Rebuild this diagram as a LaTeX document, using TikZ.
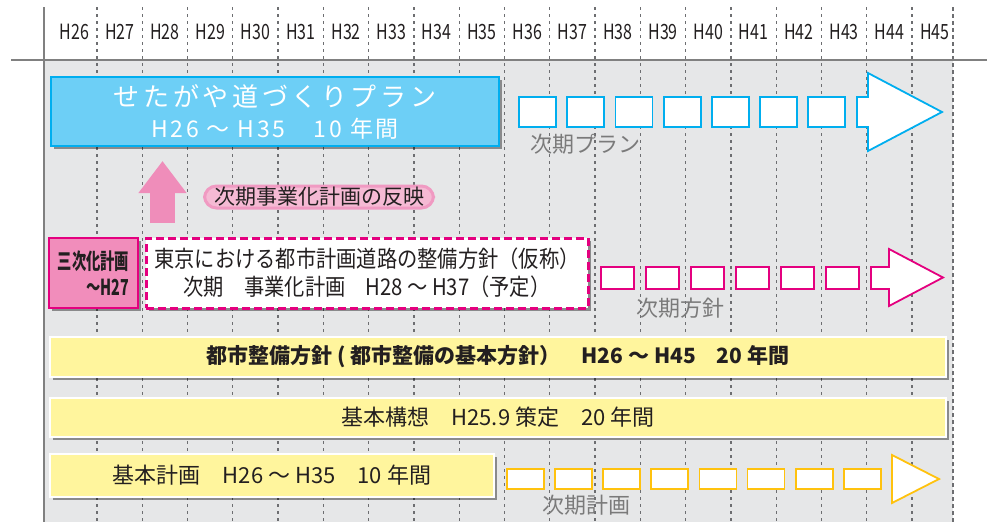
\documentclass[tikz,border=0pt]{standalone}
\usepackage{fontspec}
\setmainfont{Noto Sans CJK JP}
\newfontfamily\condfont[FakeStretch=0.76]{Noto Sans CJK JP}
\newfontfamily\boxfont[FakeStretch=0.65]{Noto Sans CJK JP}
\newfontfamily\narrowfont[FakeStretch=0.88]{Noto Sans CJK JP}
\usetikzlibrary{shadows,arrows.meta}

\definecolor{gridgray}{HTML}{6D6E71}
\definecolor{axisgray}{HTML}{808080}
\definecolor{bggray}{HTML}{E6E7E8}
\definecolor{planblue}{HTML}{6DCFF6}
\definecolor{planborder}{HTML}{00AEEF}
\definecolor{policypink}{HTML}{F18DBB}
\definecolor{policymagenta}{HTML}{E4007F}
\definecolor{uppink}{HTML}{EF8DBA}
\definecolor{glowpink}{HTML}{F5BAD4}
\definecolor{glowedge}{HTML}{F09AC2}
\definecolor{baryellow}{HTML}{FFF59D}
\definecolor{nextyellow}{HTML}{FFC20E}
\definecolor{inkdark}{HTML}{231F20}
\definecolor{nextgray}{HTML}{7A7A7A}

\tikzset{
  boxshadow/.style={drop shadow={shadow xshift=2.5pt,shadow yshift=-2.5pt,opacity=0.4,fill=black}},
  gridline/.style={gridgray,line width=1.3pt,dash pattern=on 3pt off 4pt},
  yearlabel/.style={text=inkdark,font=\condfont\fontsize{21}{24}\selectfont,inner sep=0pt},
  planbox/.style={boxshadow,draw=planborder,line width=2pt,fill=planblue,inner sep=0pt,
    minimum width=448pt,minimum height=69pt,align=center,text=white,
    font=\fontsize{26}{31}\selectfont},
  oldbox/.style={boxshadow,draw=policymagenta,line width=2.8pt,fill=policypink,inner sep=0pt,
    minimum width=89pt,minimum height=70pt,align=right,text=inkdark,
    font=\boxfont\bfseries\fontsize{22}{26}\selectfont},
  policybox/.style={boxshadow,draw=policymagenta,line width=3pt,dash pattern=on 8pt off 4pt,
    fill=white,inner sep=0pt,minimum width=442pt,minimum height=70pt,align=center,
    text=inkdark,font=\narrowfont\fontsize{23}{28}\selectfont},
  yellowbar/.style={boxshadow,draw=white,line width=2.5pt,fill=baryellow,inner sep=0pt,
    text=inkdark,font=\fontsize{22}{26}\selectfont},
  glowblob/.style={draw=glowedge,line width=3pt,fill=glowpink,rounded corners=12pt,
    inner sep=0pt,minimum width=229pt,minimum height=22pt,text=inkdark,
    font=\fontsize{21}{24}\selectfont},
  nextlabel/.style={text=nextgray,inner sep=0pt,font=\fontsize{22}{24}\selectfont},
  nextplan/.style={draw=planborder,line width=1.8pt,fill=white},
  nextpolicy/.style={draw=policymagenta,line width=1.8pt,fill=white},
  nextbasic/.style={draw=nextyellow,line width=1.8pt,fill=white},
}

\begin{document}
\begin{tikzpicture}[x=1pt,y=-1pt]
\useasboundingbox (0,0) rectangle (987,522);

%Background
\fill[bggray] (45,61) rectangle (953,522);

%Year columns
\foreach \i in {0,...,18}
  \draw[gridline] (97+45.28*\i,7) -- (97+45.28*\i,522);
\draw[gridgray,line width=2.3pt,dash pattern=on 4pt off 3pt] (953,7) -- (953,522);

\foreach \yr [count=\i from 0] in {26,...,45}
  \node[yearlabel] (h\yr) at (74.4+45.28*\i,32){H\yr};

%Axes
\draw[axisgray,line width=2.5pt] (44,7) -- (44,522);
\draw[axisgray,line width=2.5pt] (11,60) -- (987,60);


%%%%%%%%%%%%%%%%%Plan%%%%%%%%%%%%%%
\node[planbox,
] (plan) at (275,111.5){{\addfontfeature{LetterSpace=14}せたがや道づくりプラン}\\
{\fontsize{23}{31}\selectfont\addfontfeature{LetterSpace=12}H26 ～ H35　10 年間}};

%Next plan
\foreach \i in {0,...,6}
  \draw[nextplan] (519+48.2*\i,97) rectangle ++(37,30);
\draw[nextplan] (857,97) -- (868,97) -- (868,73) -- (942,112) -- (868,151)
  -- (868,127) -- (857,127) -- cycle;
\node[nextlabel] (nextplanlabel) at (585,144){次期プラン};


%%%%%%%%%%%%%%%%%Reflect%%%%%%%%%%%%%%
\coordinate (upfoot) at (162.5,223);
\coordinate (uptip) at (162.5,161);
\draw[uppink,line width=25pt,-{Triangle[length=32pt,width=46pt]}] (upfoot) -- (uptip);

\node[glowblob,
] (reflect) at (319,197){次期事業化計画の反映};


%%%%%%%%%%%%%%%%%Policy%%%%%%%%%%%%%%
%Third plan
\node[oldbox,
] (third) at (93.5,273){三次化計画\\～H27};

%Tokyo policy
\node[policybox,
] (policy) at (367,273){東京における都市計画道路の整備方針（仮称）\\
次期　事業化計画　H28 ～ H37（予定）};

%Next policy
\foreach \i in {0,...,5}
  \draw[nextpolicy] (601+45*\i,267) rectangle ++(33,22);
\draw[nextpolicy] (871,267) -- (889,267) -- (889,249) -- (943,277.5) -- (889,306)
  -- (889,289) -- (871,289) -- cycle;
\node[nextlabel] (nextpolicylabel) at (680,308){次期方針};


%%%%%%%%%%%%%%%%%Bars%%%%%%%%%%%%%%
%City master plan
\node[yellowbar,minimum width=896pt,minimum height=40pt,font=\bfseries\fontsize{21}{24}\selectfont,
] (master) at (498,357){都市整備方針 ( 都市整備の基本方針）　H26 ～ H45　20 年間};

%Basic concept
\node[yellowbar,minimum width=896pt,minimum height=39pt,
] (concept) at (498,417.5){基本構想　H25.9 策定　20 年間};

%Basic plan
\node[yellowbar,minimum width=444pt,minimum height=43pt,
] (basic) at (272,475.5){基本計画　H26 ～ H35　10 年間};

%Next basic plan
\foreach \i in {0,...,7}
  \draw[nextbasic] (507+48.1*\i,469) rectangle ++(37,20);
\draw[nextbasic] (892,455) -- (939,479) -- (892,503) -- cycle;
\node[nextlabel] (nextbasiclabel) at (586,505){次期計画};

\end{tikzpicture}
\end{document}
